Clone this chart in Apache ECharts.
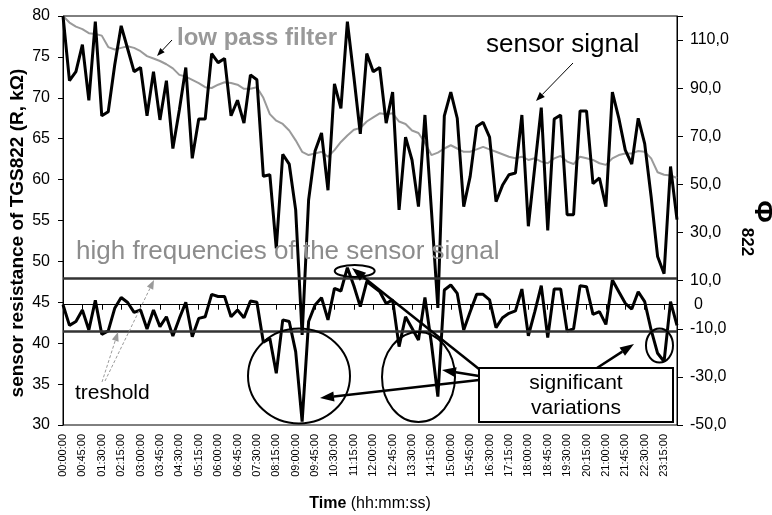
<!DOCTYPE html>
<html><head><meta charset="utf-8">
<script src="https://cdn.jsdelivr.net/npm/echarts@6/dist/echarts.min.js"></script>
<style>html,body{margin:0;padding:0;background:#fff}#c{width:772px;height:515px}</style>
</head><body><div id="c"></div>
<script>
// ---- data ----
const times = [];
for (let h = 0; h < 24; h++) for (const m of [0, 15, 30, 45])
  times.push(String(h).padStart(2, '0') + ':' + String(m).padStart(2, '0') + ':00');

const sensorSignal = [
  80.0, 72.1, 73.2, 76.5, 69.7, 79.3, 67.8, 68.3, 74.0, 78.8,
  76.0, 73.2, 73.7, 67.8, 73.2, 67.3, 72.1, 63.8, 68.5, 73.7,
  62.6, 67.4, 67.4, 75.4, 74.3, 74.8, 67.8, 69.7, 66.9, 72.8,
  72.2, 60.4, 60.6, 51.6, 63.1, 61.9, 56.3, 41.0, 57.5, 63.5,
  65.7, 58.7, 71.7, 68.7, 79.3, 72.6, 65.6, 75.4, 73.2, 73.7,
  66.9, 70.7, 56.3, 65.2, 62.4, 56.7, 67.9, 56.3, 44.3, 67.8,
  70.7, 67.5, 56.7, 60.4, 66.5, 67.0, 65.2, 57.3, 59.3, 60.6,
  60.8, 67.9, 54.3, 61.6, 68.8, 53.8, 67.4, 67.9, 55.7, 55.7,
  68.4, 68.4, 59.5, 60.2, 56.7, 70.7, 67.5, 63.6, 61.9, 67.5,
  64.4, 57.9, 50.6, 48.5, 61.6, 55.1
];
const lowPass = [
  80.0, 79.2, 78.7, 78.4, 77.9, 77.8, 77.6, 76.2, 75.9, 76.1,
  76.3, 76.1, 75.7, 75.1, 74.8, 74.5, 74.1, 73.6, 72.8, 72.6,
  72.2, 71.8, 71.3, 71.2, 71.6, 71.9, 71.8, 71.6, 71.1, 71.1,
  71.3, 70.0, 68.0, 67.2, 66.8, 66.0, 64.8, 63.4, 63.0, 63.2,
  63.4, 62.8, 63.6, 64.6, 65.4, 66.1, 66.3, 67.1, 67.6, 68.1,
  68.0, 68.1, 67.1, 66.8, 66.0, 65.7, 64.5, 63.0, 63.3, 63.8,
  64.2, 63.8, 63.4, 63.4, 63.7, 64.0, 63.7, 63.4, 63.1, 62.8,
  62.6, 62.8, 62.4, 62.6, 62.2, 62.0, 62.6, 62.9, 62.2, 61.9,
  62.8, 62.6, 62.4, 62.0, 61.8, 62.6, 63.0, 63.2, 63.2, 63.5,
  63.4, 62.6, 60.9, 60.6, 60.5, 60.2
];
const highFreq = [
  0.0, -8.6, -7.0, -2.2, -10.5, 1.8, -12.3, -10.9, -1.5, 3.0,
  0.9, -3.2, -2.2, -10.1, -2.2, -9.1, -5.0, -13.0, -5.7, 1.0,
  -13.3, -5.7, -5.0, 4.3, 3.4, 3.4, -5.0, -2.2, -5.4, 1.5,
  1.0, -15.6, -14.0, -28.5, -6.3, -7.0, -19.5, -48.6, -7.0, -0.1,
  2.9, -6.3, 6.8, 5.7, 15.4, 7.9, -0.8, 9.6, 7.5, 5.5,
  0.5, 2.0, -17.4, -5.0, -9.8, -14.7, 3.0, -16.0, -38.2, 6.1,
  8.2, 4.7, -10.5, -2.9, 4.3, 4.3, 2.0, -9.5, -5.4, -3.6,
  -2.6, 6.5, -12.9, -2.9, 7.9, -13.7, 6.5, 6.5, -11.0, -10.0,
  7.9, 7.5, -4.0, -2.9, -8.2, 10.3, 5.4, 0.6, -1.8, 5.4,
  1.3, -10.5, -20.2, -23.6, 1.3, -8.6
];
const thresholds = [11, -11];
const zeroLevel = 0;

// ---- helpers for annotations ----
const FF = '"Liberation Sans", Arial, sans-serif';
function arrow(x1, y1, x2, y2, color, w, hl, hw, dash) {
  const dx = x2 - x1, dy = y2 - y1, L = Math.sqrt(dx * dx + dy * dy);
  const ux = dx / L, uy = dy / L;
  const bx = x2 - ux * hl, by = y2 - uy * hl;
  return [
    { type: 'line', shape: { x1: x1, y1: y1, x2: bx, y2: by },
      style: { stroke: color, lineWidth: w, lineDash: dash || null }, z: 100 },
    { type: 'polygon', shape: { points: [[x2, y2], [bx - uy * hw / 2, by + ux * hw / 2], [bx + uy * hw / 2, by - ux * hw / 2]] },
      style: { fill: color }, z: 100 }
  ];
}
function txt(x, y, text, font, fill, align, rot) {
  return { type: 'text', x: x, y: y, rotation: rot || 0, z: 100,
    style: { text: text, font: font, fill: fill, align: align || 'left', verticalAlign: 'middle' } };
}
function ell(cx, cy, rx, ry, w) {
  return { type: 'ellipse', shape: { cx: cx, cy: cy, rx: rx, ry: ry },
    style: { fill: 'none', stroke: '#000', lineWidth: w }, z: 100 };
}

const graphics = [].concat(
  [txt(177, 38, 'low pass filter', 'bold 24px ' + FF, '#999999')],
  arrow(172, 40, 157, 56, '#000', 1, 8, 6),
  [txt(486, 45, 'sensor signal', '26px ' + FF, '#000')],
  arrow(573, 63, 536, 101, '#000', 1, 9, 7),
  [txt(76, 252, 'high frequencies of the sensor signal', '26px ' + FF, '#8c8c8c')],
  [txt(75, 393, 'treshold', '21px ' + FF, '#000')],
  arrow(102, 382, 118, 332, '#9a9a9a', 1, 9, 7, [3, 2]),
  arrow(105, 381, 154, 280, '#9a9a9a', 1, 9, 7, [3, 2]),
  [ell(299, 376, 51, 47.5, 2), ell(418.5, 377, 36.5, 45, 2), ell(659.5, 345.5, 13.5, 17, 2), ell(354.7, 271, 20, 6, 2)],
  arrow(479, 380, 320, 398, '#000', 2.5, 14, 10),
  arrow(479, 376, 442, 370, '#000', 2.5, 14, 10),
  arrow(479, 369, 352, 268, '#000', 2.5, 14, 10),
  arrow(597, 368, 634, 344, '#000', 2.5, 14, 10),
  [{ type: 'rect', shape: { x: 479, y: 368, width: 194, height: 54 },
     style: { fill: '#fff', stroke: '#000', lineWidth: 2 }, z: 101 },
   Object.assign(txt(576, 383, 'significant', '21px ' + FF, '#000', 'center'), { z: 102 }),
   Object.assign(txt(576, 408, 'variations', '21px ' + FF, '#000', 'center'), { z: 102 }),
   txt(17.5, 233, 'sensor resistance of TGS822 (R, kΩ)', 'bold 19px ' + FF, '#000', 'center', Math.PI / 2),
   txt(762, 211.5, 'Φ', 'bold 27px ' + FF, '#000', 'center', -Math.PI / 2),
   txt(746.5, 242, '822', 'bold 17px ' + FF, '#000', 'center', -Math.PI / 2),
   { type: 'text', x: 370, y: 504, z: 100,
     style: { text: '{b|Time}{n| (hh:mm:ss)}', align: 'center', verticalAlign: 'middle',
       rich: { b: { fontWeight: 'bold', fontSize: 16, fontFamily: FF, fill: '#000' },
               n: { fontSize: 16, fontFamily: FF, fill: '#000' } } } }
  ]
);

const chart = echarts.init(document.getElementById('c'), null, { renderer: 'canvas' });
chart.setOption({
  animation: false,
  backgroundColor: '#fff',
  textStyle: { fontFamily: FF },
  grid: { left: 63, right: 95, top: 16, bottom: 90, show: true, borderColor: '#000', borderWidth: 1 },
  xAxis: {
    type: 'category', data: times, boundaryGap: false,
    axisLine: { lineStyle: { color: '#000', width: 1 } },
    axisTick: { interval: 2, length: 5, lineStyle: { color: '#000' } },
    axisLabel: { interval: 2, rotate: 90, fontSize: 11, color: '#000', margin: 9, fontFamily: FF },
    splitLine: { show: false }
  },
  yAxis: [
    { type: 'value', min: 30, max: 80, interval: 5, position: 'left',
      axisLine: { show: true, lineStyle: { color: '#000', width: 1 } },
      axisTick: { show: true, length: 5, lineStyle: { color: '#000' } },
      axisLabel: { fontSize: 16, color: '#000', margin: 13, fontFamily: FF },
      splitLine: { show: false } },
    { type: 'value', min: -50, max: 120, interval: 20, position: 'right',
      axisLine: { show: true, lineStyle: { color: '#000', width: 1 } },
      axisTick: { show: true, length: 6, lineStyle: { color: '#000' } },
      axisLabel: { fontSize: 16, color: '#000', margin: 13, fontFamily: FF,
        formatter: function (v) { return v > 115 ? '' : v.toFixed(1).replace('.', ','); } },
      splitLine: { show: false } }
  ],
  series: [
    { name: 'low pass filter', type: 'line', data: lowPass, yAxisIndex: 0, symbol: 'none',
      lineStyle: { color: '#9a9a9a', width: 2 }, z: 2 },
    { name: 'high frequencies', type: 'line', data: highFreq, yAxisIndex: 1, symbol: 'none',
      lineStyle: { color: '#000', width: 3 }, z: 3,
      markLine: { silent: true, symbol: 'none', animation: false,
        data: [
          { yAxis: zeroLevel, lineStyle: { color: '#000', width: 1, type: 'solid' },
            label: { show: true, position: 'end', formatter: '0', color: '#000', fontSize: 16, distance: 17, fontFamily: FF } },
          { yAxis: thresholds[0], lineStyle: { color: '#333', width: 2.5, type: 'solid' }, label: { show: false } },
          { yAxis: thresholds[1], lineStyle: { color: '#333', width: 2.5, type: 'solid' }, label: { show: false } }
        ] } },
    { name: 'sensor signal', type: 'line', data: sensorSignal, yAxisIndex: 0, symbol: 'none',
      lineStyle: { color: '#000', width: 3 }, z: 4 }
  ],
  graphic: { elements: graphics }
});
</script></body></html>
